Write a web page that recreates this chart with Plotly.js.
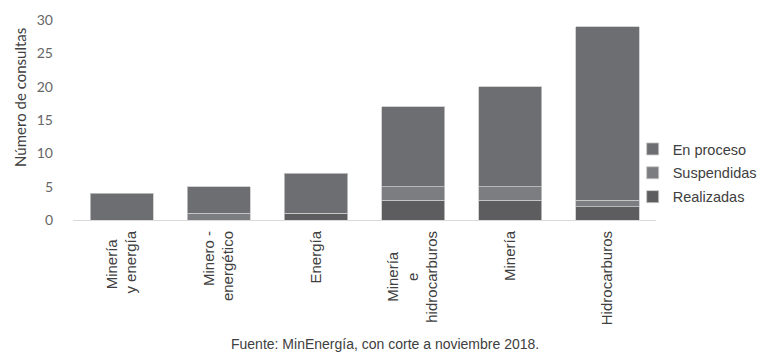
<!DOCTYPE html>
<html>
<head>
<meta charset="utf-8">
<script src="https://cdn.plot.ly/plotly-3.0.1.min.js"></script>
<style>html,body{margin:0;padding:0;background:#fff}#chart{width:761px;height:353px}</style>
</head>
<body>
<div id="chart"></div>
<script>
const categories = [
  "Minería\u00A0\u00A0<br>y energía",
  "Minero -<br>energético",
  "Energía",
  "Minería\u00A0\u00A0\u00A0\u00A0\u00A0<br>e\u00A0\u00A0\u00A0\u00A0\u00A0\u00A0\u00A0\u00A0\u00A0\u00A0<br>hidrocarburos",
  "Minería",
  "Hidrocarburos"
];
const realizadas = [0, 0, 1, 3, 3, 2];
const suspendidas = [0, 1, 0, 2, 2, 1];
const enProceso = [4, 4, 6, 12, 15, 26];
const yTicks = [0, 5, 10, 15, 20, 25, 30];

const line = {color: '#c8c8c8', width: 0.8};
const traces = [
  {type: 'bar', name: 'Realizadas', legendgroup: 'r', legendrank: 3, x: categories, y: realizadas, marker: {color: '#5d5d5f', line: line}},
  {type: 'bar', name: 'Suspendidas', legendgroup: 's', legendrank: 2, x: categories, y: suspendidas, marker: {color: '#7c7d80', line: line}},
  {type: 'bar', name: 'En proceso', legendgroup: 'e', legendrank: 1, x: categories, y: enProceso, marker: {color: '#6d6e72', line: line}}
];

const layout = {
  width: 761, height: 353,
  margin: {l: 73, r: 105, t: 20, b: 133, autoexpand: false},
  barmode: 'stack',
  bargap: 0.35,
  paper_bgcolor: '#fff', plot_bgcolor: '#fff',
  font: {family: 'Liberation Sans, Arial, sans-serif', color: '#404040'},
  xaxis: {
    type: 'category',
    tickangle: -90,
    tickfont: {size: 15, color: '#404040', family: 'Liberation Sans, Arial, sans-serif'},
    showline: true, linecolor: '#d9d9d9', linewidth: 1,
    ticks: '', showgrid: false, ticklabelstandoff: 4
  },
  yaxis: {
    range: [0, 30],
    tickvals: yTicks,
    tickfont: {size: 14, color: '#666666', family: 'Lato, sans-serif'},
    showgrid: false, zeroline: false, showline: false, ticks: '',
    ticklabelstandoff: 19
  },
  legend: {
    x: 0.96, xanchor: 'left', y: 0.235, yanchor: 'middle',
    traceorder: 'grouped',
    font: {size: 14.5, color: '#404040', family: 'Liberation Sans, Arial, sans-serif'},
    itemwidth: 30, tracegroupgap: 2,
    bgcolor: 'rgba(0,0,0,0)'
  },
  annotations: [{
    text: 'Número de consultas',
    xref: 'paper', yref: 'paper', x: -0.091, y: 0.615,
    xanchor: 'center', yanchor: 'middle', textangle: -90, showarrow: false,
    font: {size: 15, color: '#404040', family: 'Lato, sans-serif'}
  }, {
    text: 'Fuente: MinEnergía, con corte a noviembre 2018.',
    xref: 'paper', yref: 'paper', x: 0.535, y: -0.62,
    xanchor: 'center', yanchor: 'middle', showarrow: false,
    font: {size: 14, color: '#404040', family: 'Liberation Sans, Arial, sans-serif'}
  }]
};

Plotly.newPlot('chart', traces, layout, {displayModeBar: false, staticPlot: true});
</script>
</body>
</html>
